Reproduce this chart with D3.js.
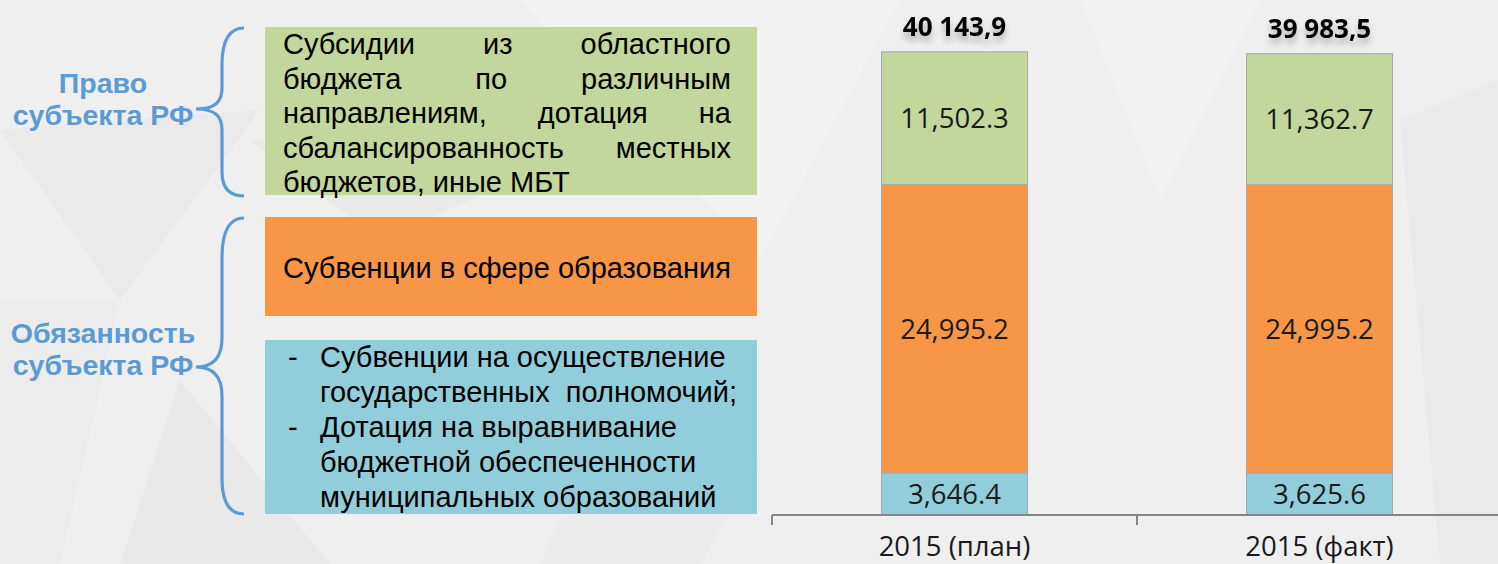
<!DOCTYPE html>
<html><head><meta charset="utf-8">
<script src="https://cdn.jsdelivr.net/npm/d3@7"></script>
<style>
html,body{margin:0;padding:0;background:#efefef;}
svg{display:block;}
</style></head>
<body>
<svg id="chart" width="1498" height="564"></svg>
<script>
// ---- data ----
const categories = ["2015 (план)", "2015 (факт)"];
const seriesNames = ["blue", "orange", "green"];
const blueValues = [3646.4, 3625.6];
const orangeValues = [24995.2, 24995.2];
const greenValues = [11502.3, 11362.7];
const seriesColors = ["#92CDDC", "#F79646", "#C3D69B"];

const sideLabels = [["Право", "субъекта РФ"], ["Обязанность", "субъекта РФ"]];
const greenBoxLines = ["Субсидии из областного", "бюджета по различным", "направлениям, дотация на", "сбалансированность местных", "бюджетов, иные МБТ"];
const orangeBoxLines = ["Субвенции в сфере образования"];
const blueBoxItems = [["Субвенции на осуществление", "государственных  полномочий;"], ["Дотация на выравнивание", "бюджетной обеспеченности", "муниципальных образований"]];

// ---- setup ----
const svg = d3.select("#chart");
const W = 1498, H = 564;

// background
svg.append("rect").attr("width", W).attr("height", H).attr("fill", "#efefef");
const bg = svg.append("g");
[
  {p: [[0,130],[260,110],[120,300]], c: "#eaeaea"},
  {p: [[0,300],[120,300],[60,564],[0,564]], c: "#ececec"},
  {p: [[180,380],[330,564],[120,564]], c: "#e9e9e9"},
  {p: [[520,0],[900,0],[760,260]], c: "#f2f2f2"},
  {p: [[1080,0],[1260,0],[1160,200]], c: "#f2f2f2"},
  {p: [[1400,120],[1498,80],[1498,564],[1440,564]], c: "#eaeaea"},
  {p: [[560,520],[760,460],[700,564],[540,564]], c: "#ebebeb"},
  {p: [[250,140],[560,160],[380,240]], c: "#e9e9e9"}
].forEach(d => bg.append("polygon").attr("points", d.p.map(q => q.join(",")).join(" ")).attr("fill", d.c));

// defs: shadow
const defs = svg.append("defs");
const f = defs.append("filter").attr("id", "shadow").attr("x", "-20%").attr("y", "-40%").attr("width", "140%").attr("height", "200%");
f.append("feGaussianBlur").attr("in", "SourceAlpha").attr("stdDeviation", 3).attr("result", "b");
f.append("feOffset").attr("in", "b").attr("dx", 0).attr("dy", 6).attr("result", "o");
f.append("feComponentTransfer").attr("in", "o").attr("result", "o2").append("feFuncA").attr("type", "linear").attr("slope", 0.25);
const fm = f.append("feMerge");
fm.append("feMergeNode").attr("in", "o2");
fm.append("feMergeNode").attr("in", "SourceGraphic");

// ---- left side: labels + braces ----
const blueLabel = "#5B9BD5";
const sideG = svg.append("g");
const labelPos = [{x: 103, y: 93}, {x: 103, y: 343}];
sideLabels.forEach((lines, i) => {
  const t = sideG.append("text").attr("text-anchor", "middle")
    .attr("font-family", "'Liberation Sans', Arial, sans-serif").attr("font-weight", "bold")
    .attr("font-size", 28.5).attr("fill", blueLabel);
  lines.forEach((l, j) => t.append("tspan").attr("x", labelPos[i].x).attr("y", labelPos[i].y + j * 31.5).text(l));
});
const braces = [
  "M244,28 C229,28 222,40 222,65 L222,88 C222,102 215,109 196,109 C215,109 222,116 222,130 L222,172 C222,188 229,196 244,196",
  "M244,218 C229,218 222,232 222,258 L222,338 C222,356 215,367 196,367 C215,367 222,378 222,396 L222,478 C222,502 229,514 244,514"
];
braces.forEach(d => sideG.append("path").attr("d", d).attr("fill", "none").attr("stroke", blueLabel).attr("stroke-width", 3.2));

// ---- left side: description boxes ----
const boxG = svg.append("g");
const boxFont = "'Liberation Sans', Arial, sans-serif";
const boxX0 = 265, boxX1 = 757;
const boxes = [
  {y0: 27, y1: 195, color: seriesColors[2]},
  {y0: 217, y1: 316, color: seriesColors[1]},
  {y0: 340, y1: 514, color: seriesColors[0]}
];
boxes.forEach(b => boxG.append("rect").attr("x", boxX0).attr("y", b.y0).attr("width", boxX1 - boxX0).attr("height", b.y1 - b.y0).attr("fill", b.color));

const fs = 29;
function measure(str) {
  const t = boxG.append("text").attr("font-family", boxFont).attr("font-size", fs).text(str);
  const w = t.node().getComputedTextLength();
  t.remove();
  return w;
}
// green box justified
const gLeft = 283, gRight = 731, gBase = 54, gStep = 34.5;
greenBoxLines.forEach((line, i) => {
  const yy = gBase + i * gStep;
  const words = line.split(" ");
  if (i === greenBoxLines.length - 1 || words.length < 2) {
    boxG.append("text").attr("font-family", boxFont).attr("font-size", fs).attr("fill", "#000")
      .attr("x", gLeft).attr("y", yy).text(line);
  } else {
    const ws = words.map(measure);
    const gap = (gRight - gLeft - d3.sum(ws)) / (words.length - 1);
    let xx = gLeft;
    words.forEach((w, k) => {
      boxG.append("text").attr("font-family", boxFont).attr("font-size", fs).attr("fill", "#000")
        .attr("x", xx).attr("y", yy).text(w);
      xx += ws[k] + gap;
    });
  }
});
// orange box
orangeBoxLines.forEach((line, i) => {
  boxG.append("text").attr("font-family", boxFont).attr("font-size", fs).attr("fill", "#000")
    .attr("x", 283).attr("y", 278 + i * 34.5).text(line);
});
// blue box
let li = 0;
blueBoxItems.forEach(item => {
  item.forEach((line, j) => {
    const yy = 367 + li * 35;
    if (j === 0) boxG.append("text").attr("font-family", boxFont).attr("font-size", fs).attr("fill", "#000")
      .attr("x", 288).attr("y", yy).text("-");
    boxG.append("text").attr("font-family", boxFont).attr("font-size", fs).attr("fill", "#000")
      .attr("x", 320).attr("y", yy).attr("xml:space", "preserve").style("white-space", "pre").text(line);
    li++;
  });
});

// ---- stacked bar chart ----
const tableRows = categories.map((c, i) => ({cat: c, blue: blueValues[i], orange: orangeValues[i], green: greenValues[i]}));
const stacked = d3.stack().keys(seriesNames)(tableRows);
const totals = tableRows.map(r => r.blue + r.orange + r.green);

const x = d3.scaleBand().domain(categories).range([772, 1502]).paddingInner(0.6).paddingOuter(0.3);
const y = d3.scaleLinear().domain([0, 40000]).range([515, 53.5]);
const color = d3.scaleOrdinal().domain(seriesNames).range(seriesColors);

const chartFont = "'Open Sans', sans-serif";
const barG = svg.append("g");
stacked.forEach(layer => {
  const g = barG.append("g").attr("fill", color(layer.key));
  g.selectAll("rect").data(layer).join("rect")
    .attr("x", d => x(d.data.cat))
    .attr("y", d => y(d[1]))
    .attr("width", x.bandwidth())
    .attr("height", d => y(d[0]) - y(d[1]))
    .attr("stroke", "#a9a9a9").attr("stroke-width", 1);
});
const fmtSeg = d3.format(",.1f");
stacked.forEach(layer => {
  barG.append("g").selectAll("text").data(layer).join("text")
    .attr("x", d => x(d.data.cat) + x.bandwidth() / 2)
    .attr("y", d => (y(d[0]) + y(d[1])) / 2)
    .attr("dy", "0.36em")
    .attr("text-anchor", "middle")
    .attr("font-family", chartFont).attr("font-size", 27.5).attr("fill", "#1a1a1a")
    .text(d => fmtSeg(d[1] - d[0]));
});
// totals
const ruLocale = d3.formatLocale({decimal: ",", thousands: " ", grouping: [3], currency: ["", ""]});
const fmtTot = ruLocale.format(",.1f");
barG.append("g").selectAll("text").data(categories).join("text")
  .attr("x", c => x(c) + x.bandwidth() / 2)
  .attr("y", (c, i) => y(totals[i]) - 16)
  .attr("text-anchor", "middle")
  .attr("font-family", chartFont).attr("font-weight", "bold").attr("font-size", 26)
  .attr("fill", "#000").attr("filter", "url(#shadow)")
  .text((c, i) => fmtTot(totals[i]));

// axis
const axisG = svg.append("g");
const step = x.step();
axisG.append("line").attr("x1", 772).attr("x2", W).attr("y1", y(0)).attr("y2", y(0))
  .attr("stroke", "#858585").attr("stroke-width", 2);
const tickXs = categories.map(c => x(c) - (step - x.bandwidth()) / 2);
tickXs.forEach(tx => axisG.append("line").attr("x1", tx).attr("x2", tx).attr("y1", y(0)).attr("y2", y(0) + 10)
  .attr("stroke", "#858585").attr("stroke-width", 2));
axisG.selectAll("text.cat").data(categories).join("text").attr("class", "cat")
  .attr("x", c => x(c) + x.bandwidth() / 2).attr("y", 556)
  .attr("text-anchor", "middle").attr("font-family", chartFont).attr("font-size", 27.5).attr("fill", "#1a1a1a")
  .text(c => c);
</script>
</body></html>
